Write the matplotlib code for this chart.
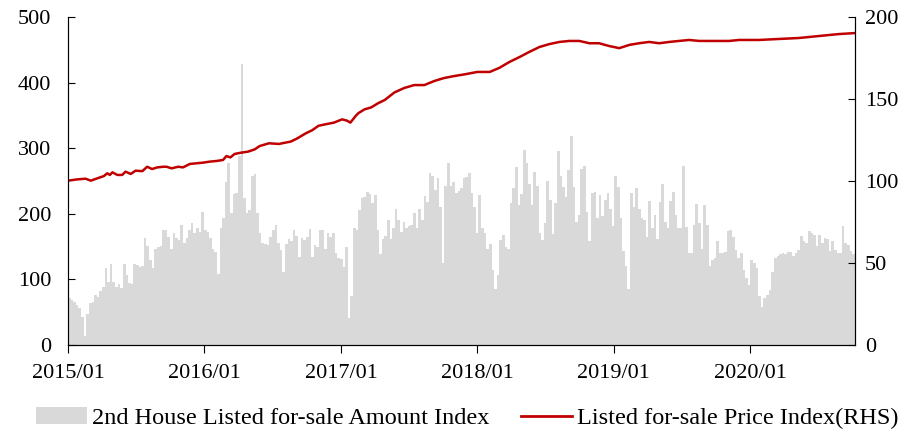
import pandas as pd
import numpy as np
import matplotlib
matplotlib.use("Agg")
import matplotlib.pyplot as plt
import matplotlib.dates as mdates
from matplotlib.patches import Patch
from matplotlib.lines import Line2D

plt.rcParams["font.family"] = ["Liberation Serif", "DejaVu Serif"]

# weekly 2nd-house listed-for-sale amount index (LHS)
amount = [
    71, 69, 66, 61, 56, 43, 14, 48, 64, 66, 76, 73, 83, 89, 118, 96, 124, 96, 89, 93,
    87, 123, 107, 95, 93, 123, 122, 119, 120, 163, 151, 130, 117, 146, 149, 151, 175,
    175, 165, 147, 171, 163, 160, 183, 156, 163, 175, 186, 171, 178, 173, 203, 175, 173,
    163, 147, 142, 109, 179, 193, 249, 277, 201, 230, 232, 288, 429, 224, 201, 206, 258,
    261, 201,
    171, 155, 154, 152, 165, 175, 183, 156, 145, 112, 154, 161, 158, 175, 166, 134, 163,
    160, 164, 177, 134, 152, 150, 176, 175, 146, 171, 165, 170, 140, 132, 131, 119, 150,
    41, 74,
    178, 176, 206, 224, 226, 234, 230, 216, 229, 176, 139, 161, 166, 190, 161, 178, 207,
    190, 173, 188, 179, 181, 183, 201, 178, 208, 190, 227, 218, 262, 258, 236, 254, 210,
    125, 242, 278,
    242, 249, 231, 235, 239, 254, 256, 262, 231, 211, 171, 229, 178, 170, 146, 154, 114,
    86, 107, 160, 168, 150, 146, 216, 240, 272, 214, 230, 298, 277, 246, 214, 264, 242,
    171, 160, 186,
    250, 221, 169, 216, 296, 258, 241, 226, 267, 318, 241, 188, 198, 268, 273, 203, 159,
    231, 233, 193, 229, 197, 221, 232, 207, 182, 257, 241, 193, 143, 120, 86, 232, 210,
    239, 208,
    193, 190, 164, 220, 178, 198, 161, 218, 246, 188, 178, 219, 234, 198, 179, 179, 273,
    180, 140, 140, 183, 215, 186, 147, 213, 183, 121, 130, 132, 158, 140, 140, 142, 174,
    176, 165, 145, 132,
    140, 114, 102, 92, 130, 125, 117, 75, 58, 71, 76, 84, 112, 132, 135, 139, 141, 139,
    142, 142, 136, 140, 145, 166, 158, 156, 174, 170, 168, 151, 168, 156, 163, 161, 144,
    159, 145, 141, 140, 181, 155, 152, 144, 139,
]
weeks = pd.date_range("2015-01-01", periods=len(amount), freq="7D")

# listed-for-sale price index (RHS)
price_dates = [
    "2015-01-01", "2015-01-26", "2015-02-17", "2015-03-03", "2015-03-20", "2015-04-07",
    "2015-04-16", "2015-04-23", "2015-04-30", "2015-05-13", "2015-05-26", "2015-06-04",
    "2015-06-18", "2015-07-01", "2015-07-19", "2015-08-01", "2015-08-14", "2015-08-28",
    "2015-09-14", "2015-09-22", "2015-10-05", "2015-10-23", "2015-11-05", "2015-11-23",
    "2015-12-11", "2015-12-29", "2016-01-15", "2016-02-02", "2016-02-20", "2016-02-29",
    "2016-03-11", "2016-03-22", "2016-04-09", "2016-04-27", "2016-05-15", "2016-05-28",
    "2016-06-22", "2016-07-19", "2016-08-05", "2016-08-19", "2016-09-06", "2016-09-28",
    "2016-10-16", "2016-11-02", "2016-11-25", "2016-12-13", "2017-01-04", "2017-01-17",
    "2017-01-26", "2017-02-09", "2017-02-16", "2017-03-05", "2017-03-23", "2017-04-10",
    "2017-04-28", "2017-05-24", "2017-06-19", "2017-07-16", "2017-08-12", "2017-09-08",
    "2017-10-04", "2017-10-31", "2017-11-27", "2018-01-01", "2018-02-03", "2018-03-01",
    "2018-03-28", "2018-04-24", "2018-05-20", "2018-06-16", "2018-07-13", "2018-08-09",
    "2018-09-04", "2018-10-01", "2018-10-28", "2018-11-23", "2018-12-20", "2019-01-16",
    "2019-02-12", "2019-03-10", "2019-04-06", "2019-05-03", "2019-05-30", "2019-06-25",
    "2019-07-22", "2019-08-18", "2019-09-13", "2019-10-10", "2019-11-06", "2019-12-03",
    "2020-01-25", "2020-03-18", "2020-05-11", "2020-07-03", "2020-08-26", "2020-10-08",
]
price = [
    100.2, 101.0, 101.4, 100.2, 101.6, 103.0, 104.7, 103.7, 105.3, 103.7, 103.7, 105.7,
    104.3, 106.3, 106.0, 108.7, 107.3, 108.3, 108.7, 108.7, 107.7, 108.7, 108.3, 110.4,
    110.8, 111.2, 111.8, 112.2, 112.8, 115.2, 114.4, 116.5, 117.3, 117.9, 119.3, 121.3,
    123.0, 122.6, 123.4, 124.0, 126.0, 129.0, 131.0, 133.7, 134.8, 135.6, 137.6, 136.8,
    135.6, 139.6, 141.3, 143.7, 144.9, 147.4, 149.4, 154.0, 156.7, 158.5, 158.5, 161.0,
    162.8, 164.0, 165.0, 166.5, 166.5, 169.0, 172.6, 175.6, 178.7, 181.7, 183.5, 184.8,
    185.4, 185.4, 184.0, 184.0, 182.3, 181.0, 183.0, 184.0, 184.8, 184.0, 184.8, 185.4,
    186.0, 185.4, 185.4, 185.4, 185.4, 186.0, 186.0, 186.6, 187.2, 188.4, 189.6, 190.2,
]

fig = plt.figure(figsize=(9.14, 4.36), dpi=100)
ax = fig.add_axes([0.0744, 0.2087, 0.861, 0.7523])
ax.bar(weeks, amount, width=7, align="edge", color="#d9d9d9", linewidth=0)
ax.set_ylim(0, 500)
ax.set_yticks(range(0, 501, 100))
ax.set_xlim(weeks[0], weeks[-1] + pd.Timedelta(days=7))
ax.xaxis.set_major_locator(mdates.YearLocator())
ax.xaxis.set_major_formatter(mdates.DateFormatter("%Y/%m"))

ax2 = ax.twinx()
ax2.plot(pd.to_datetime(price_dates), price, color="#c00000", lw=1.8)
ax2.set_ylim(0, 200)
ax2.set_yticks(range(0, 201, 50))

for a in (ax, ax2):
    a.spines["top"].set_visible(False)
ax.spines["left"].set_color("#404040")
ax.tick_params(axis="y", direction="in", length=5, pad=12, labelsize=16, colors="black")
ax.tick_params(axis="x", direction="out", length=6, pad=8, labelsize=16)
ax2.tick_params(axis="y", direction="in", length=5, pad=7, labelsize=16)

handles = [Patch(facecolor="#d9d9d9", edgecolor="none"),
           Line2D([0], [0], color="#c00000", lw=2)]
labels = ["2nd House Listed for-sale Amount Index", "Listed for-sale Price Index(RHS)"]
fig.legend(handles, labels, loc="lower center", bbox_to_anchor=(0.511, -0.035), ncol=2,
           frameon=False, fontsize=17.5, handlelength=2.1, handletextpad=0.2,
           columnspacing=1.3)

fig.savefig("out.png", dpi=100)
